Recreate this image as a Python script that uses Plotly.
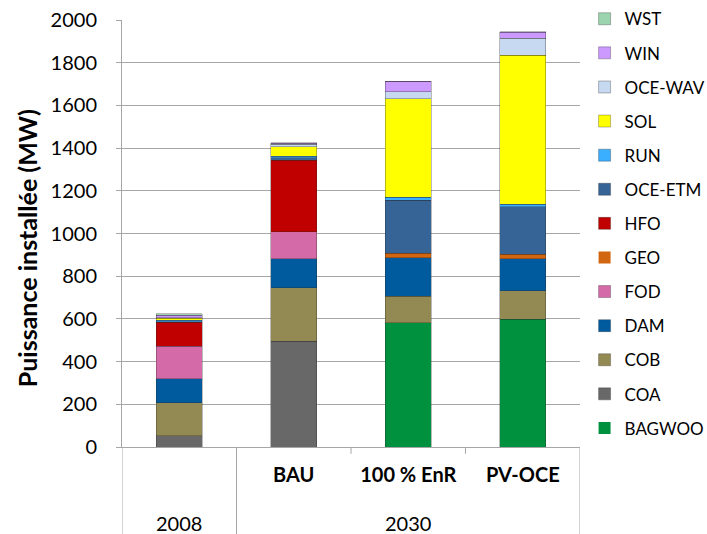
import plotly.graph_objects as go

# Categories (second level) and year groups (first level)
scenarios = ["2008", "BAU", "100 % EnR", "PV-OCE"]
scenario_labels = ["", "BAU", "100 % EnR", "PV-OCE"]
years = ["2008", "2030"]
year_positions = [0, 2]

# Series values (MW), stacked bottom -> top
BAGWOO = [0, 0, 582, 598]
COA = [52, 495, 0, 0]
COB = [156, 252, 125, 135]
DAM = [111, 134, 179, 148]
FOD = [153, 127, 0, 0]
GEO = [0, 0, 21, 21]
HFO = [112, 335, 0, 0]
OCE_ETM = [2, 12, 249, 224]
RUN = [8, 8, 14, 11]
SOL = [8, 44, 462, 697]
OCE_WAV = [3, 12, 31, 81]
WIN = [12, 4, 49, 27]
WST = [6, 3, 2, 2]

series = [
    ("BAGWOO", BAGWOO, "#00913F"),
    ("COA", COA, "#686868"),
    ("COB", COB, "#938953"),
    ("DAM", DAM, "#005A9E"),
    ("FOD", FOD, "#D46AA8"),
    ("GEO", GEO, "#D2650F"),
    ("HFO", HFO, "#C00000"),
    ("OCE-ETM", OCE_ETM, "#376497"),
    ("RUN", RUN, "#3AAEFF"),
    ("SOL", SOL, "#FFFF00"),
    ("OCE-WAV", OCE_WAV, "#C6D9F0"),
    ("WIN", WIN, "#CC99FF"),
    ("WST", WST, "#9BD4AE"),
]

FONT = "Lato"

fig = go.Figure()
n = len(series)
for i, (name, vals, col) in enumerate(series):
    fig.add_trace(go.Bar(
        x=scenarios, y=vals, name=name, legendgroup=name, legendrank=n - i,
        marker=dict(color=col,
                    line=dict(color="rgba(40,40,40,0.4)",
                              width=[0.8 if v > 0 else 0 for v in vals])),
        width=0.4,
    ))

shapes = []
# full-height separators below the axis
for xv in [-0.5, 0.5, 3.5]:
    shapes.append(dict(type="line", xref="x", yref="paper", x0=xv, x1=xv,
                       y0=-0.21, y1=0, line=dict(color="#A6A6A6", width=1)))
# short ticks
for xv in [1.5, 2.5]:
    shapes.append(dict(type="line", xref="x", yref="paper", x0=xv, x1=xv,
                       y0=-0.016, y1=0, line=dict(color="#A6A6A6", width=1)))

annotations = []
for yr, pos in zip(years, year_positions):
    annotations.append(dict(text=yr, x=pos, xref="x", y=-0.178, yref="paper",
                            showarrow=False, xanchor="center", yanchor="middle",
                            font=dict(family=FONT, size=20, color="#000000")))
annotations.append(dict(text="<b>Puissance installée (MW)</b>", x=-0.207, xref="paper",
                        y=0.466, yref="paper", textangle=-90, showarrow=False,
                        xanchor="center", yanchor="middle",
                        font=dict(family=FONT, size=25, color="#000000")))

fig.update_layout(
    width=707, height=534,
    margin=dict(l=122, r=127, t=20, b=87, autoexpand=False),
    barmode="stack",
    plot_bgcolor="white", paper_bgcolor="white",
    font=dict(family=FONT, size=18, color="#000000"),
    shapes=shapes, annotations=annotations,
    legend=dict(x=1.01, xanchor="left", y=1.044, yanchor="top",
                traceorder="grouped", tracegroupgap=9, maxheight=534,
                font=dict(family=FONT, size=17, color="#000000"),
                itemclick=False),
)
fig.update_xaxes(
    type="category", range=[-0.5, 3.5],
    tickvals=scenarios, ticktext=["<b>" + t + "</b>" if t else "" for t in scenario_labels],
    showline=True, linecolor="#A6A6A6", linewidth=1, ticks="",
    ticklabelstandoff=10, tickfont=dict(family=FONT, size=20),
    showgrid=False,
)
fig.update_yaxes(
    range=[0, 2000], dtick=200, showgrid=True, gridcolor="#A6A6A6", gridwidth=1,
    showline=True, linecolor="#A6A6A6", linewidth=1, ticks="outside", ticklen=5,
    tickcolor="#A6A6A6", tickfont=dict(family=FONT, size=20), zeroline=False,
    ticklabelstandoff=15,
)

fig.write_html("out.html", config={"displayModeBar": False},
               post_script="document.body.style.margin='0';document.body.style.overflow='hidden';")
